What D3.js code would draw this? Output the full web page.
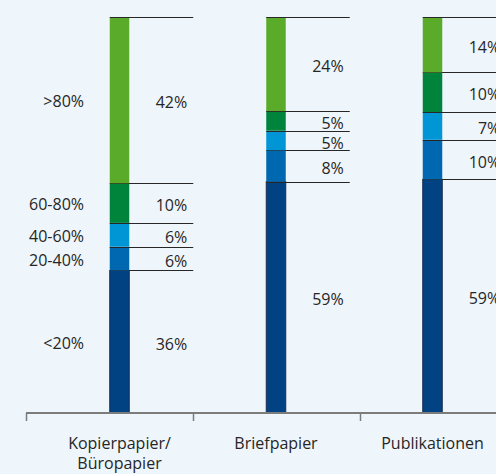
<!DOCTYPE html>
<html>
<head>
<meta charset="utf-8">
<script src="https://cdn.jsdelivr.net/npm/d3@7"></script>
<style>
  body { margin: 0; background: #eef5fb; }
  svg { display: block; }
  text { font-family: "Open Sans", sans-serif; font-size: 16px; fill: #262626; }
</style>
</head>
<body>
<div id="chart"></div>
<script>
const width = 496,
height = 474;

// categories (x) and value ranges (stack order, bottom first)
const categories = ["Kopierpapier", "Briefpapier", "Publikationen"]
const categoryLines = [["Kopierpapier/", "Büropapier"], ["Briefpapier"], ["Publikationen"]]
const ranges = ["<20%", "20-40%", "40-60%", "60-80%", ">80%"]

// share per range, in percent
const kopierpapier = [36, 6, 6, 10, 42]
const briefpapier = [59, 8, 5, 5, 24]
const publikationen = [59, 10, 7, 10, 14]

const colors = ["#004282", "#0068b1", "#0096d6", "#00843c", "#5bab2a"]

// table for d3.stack
let table = categories.map(function(c, i){
  let vals = [kopierpapier, briefpapier, publikationen][i]
  let row = { cat: c }
  ranges.forEach(function(r, j){ row[r] = vals[j] })
  return row
})

const series = d3.stack()
  .keys(ranges)
  .offset(d3.stackOffsetExpand)(table)

let svg = d3.select("#chart").append("svg")
  .attr("width", width)
  .attr("height", height)

// bars sit a bit off the band centres, like in the original
let x = d3.scalePoint()
  .domain(categories)
  .range([119.5, 432.5])

// bands used for axis ticks
let xBand = d3.scaleBand()
  .domain(categories)
  .range([26, 527])

let y = d3.scaleLinear()
  .domain([0, 1])
  .range([413, 17])

const barW = 19.5,
lineLen = 64,
labelGap = 58;

// segments
let layer = svg.selectAll("g.layer")
  .data(series)
  .join("g")
  .attr("class", "layer")
  .attr("fill", (d, i) => colors[i])

layer.selectAll("rect")
  .data(d => d.map(s => ({ s: s, key: d.key, index: d.index })))
  .join("rect")
  .attr("x", d => x(d.s.data.cat) - barW / 2)
  .attr("width", barW)
  .attr("y", d => y(d.s[1]))
  .attr("height", d => y(d.s[0]) - y(d.s[1]))
  .attr("stroke", d => d.index == 0 ? "#1a2f52" : "none")
  .attr("stroke-width", 1)

// connector lines at the top of each segment
layer.selectAll("line")
  .data(d => d.map(s => ({ s: s, key: d.key })))
  .join("line")
  .attr("x1", d => x(d.s.data.cat) - barW / 2)
  .attr("x2", d => x(d.s.data.cat) + barW / 2 + lineLen)
  .attr("y1", d => Math.round(y(d.s[1])) + 0.5)
  .attr("y2", d => Math.round(y(d.s[1])) + 0.5)
  .attr("stroke", "#262626")
  .attr("stroke-width", 1)

// value labels
layer.selectAll("text")
  .data(d => d.map(s => ({ s: s, key: d.key })))
  .join("text")
  .attr("x", d => x(d.s.data.cat) + barW / 2 + labelGap)
  .attr("y", d => (y(d.s[0]) + y(d.s[1])) / 2 + 8)
  .attr("text-anchor", "end")
  .text(d => d.s.data[d.key] + "%")

// range labels left of the first bar
svg.append("g")
  .selectAll("text")
  .data(series)
  .join("text")
  .attr("x", 84)
  .attr("y", d => (y(d[0][0]) + y(d[0][1])) / 2 + 7)
  .attr("text-anchor", "end")
  .text(d => d.key)

// axis
let axis = svg.append("g")
axis.append("line")
  .attr("x1", xBand.range()[0])
  .attr("x2", xBand.range()[1])
  .attr("y1", y(0))
  .attr("y2", y(0))
  .attr("stroke", "#7c7c7c")
  .attr("stroke-width", 2)

axis.selectAll(".tick")
  .data(categories)
  .join("line")
  .attr("class", "tick")
  .attr("x1", d => Math.round(xBand(d)) + 0.5)
  .attr("x2", d => Math.round(xBand(d)) + 0.5)
  .attr("y1", y(0))
  .attr("y2", y(0) + 8)
  .attr("stroke", "#7c7c7c")
  .attr("stroke-width", 1.5)

// category labels
axis.selectAll(".cat")
  .data(categories)
  .join("text")
  .attr("class", "cat")
  .attr("text-anchor", "middle")
  .attr("y", 449)
  .each(function(d, i){
    d3.select(this).selectAll("tspan")
      .data(categoryLines[i])
      .join("tspan")
      .attr("x", x(d))
      .attr("dy", (t, j) => j == 0 ? 0 : 20)
      .text(t => t)
  })
</script>
</body>
</html>
